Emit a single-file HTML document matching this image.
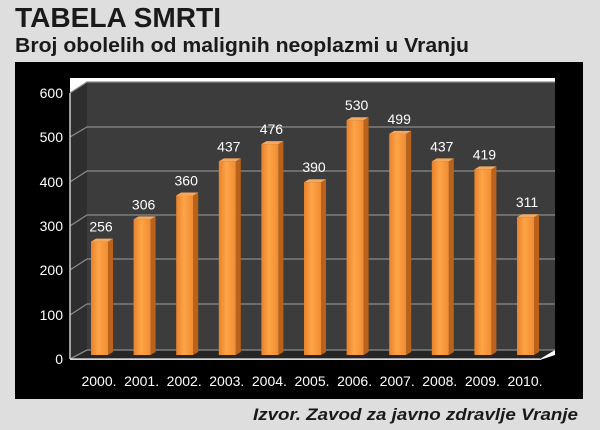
<!DOCTYPE html>
<html><head><meta charset="utf-8"><style>
html,body{margin:0;padding:0;background:#dedede;}
svg{display:block;font-family:"Liberation Sans",sans-serif;}
</style></head><body>
<svg width="600" height="430" viewBox="0 0 600 430" xmlns="http://www.w3.org/2000/svg">
<defs>
<linearGradient id="bf" x1="0" x2="1" y1="0" y2="0">
<stop offset="0" stop-color="#e8822a"/><stop offset="0.45" stop-color="#ffa448"/><stop offset="1" stop-color="#f08c32"/>
</linearGradient>
</defs>
<rect width="600" height="430" fill="#dedede"/>
<text x="15" y="27" font-size="28" font-weight="bold" fill="#1a1a1a" textLength="206" lengthAdjust="spacingAndGlyphs">TABELA SMRTI</text>
<text x="15" y="52" font-size="20" font-weight="bold" fill="#1a1a1a" textLength="454" lengthAdjust="spacingAndGlyphs">Broj obolelih od malignih neoplazmi u Vranju</text>
<rect x="15" y="62" width="568" height="337" fill="#000"/>
<polygon points="70,78 555,78 555,82 87,82 70,93" fill="#fff"/>
<polygon points="555,350 555,355 540,360 70,360 70,357" fill="#fff"/>
<rect x="87" y="82" width="468" height="268" fill="#3c3c3c"/>
<polygon points="70,93 87,82 87,350 70,359" fill="#2e2e2e"/>
<polygon points="70,359 87,350 555,350 540,359" fill="#262626"/>
<g stroke="#8a8a8a" stroke-width="1.3" fill="none">
<polyline points="70,93 87,82 555,82"/>
<polyline points="70,137 87,127 555,127"/>
<polyline points="70,182 87,171 555,171"/>
<polyline points="70,226 87,215 555,215"/>
<polyline points="70,270 87,259 555,259"/>
<polyline points="70,315 87,304 555,304"/>
<polyline points="70,359 87,350 555,350"/>
</g>
<line x1="70" y1="93" x2="70" y2="359" stroke="#ccc" stroke-width="1.5"/>
<line x1="70" y1="359" x2="540" y2="359" stroke="#ccc" stroke-width="1.5"/>
<g fill="#fff" font-size="14" text-anchor="end">
<text x="63" y="98">600</text><text x="63" y="142">500</text><text x="63" y="187">400</text>
<text x="63" y="231">300</text><text x="63" y="275">200</text><text x="63" y="320">100</text><text x="63" y="364">0</text>
</g>
<g>
<g transform="translate(91,241.6)"><polygon points="17,0 22,-3 22,110.4 17,113.4" fill="#b8621c"/><rect width="17" height="113.4" fill="url(#bf)"/><polygon points="0,0 5,-3 22,-3 17,0" fill="#f4a860"/></g>
<g transform="translate(133.6,219.4)"><polygon points="17,0 22,-3 22,132.6 17,135.6" fill="#b8621c"/><rect width="17" height="135.6" fill="url(#bf)"/><polygon points="0,0 5,-3 22,-3 17,0" fill="#f4a860"/></g>
<g transform="translate(176.2,195.5)"><polygon points="17,0 22,-3 22,156.5 17,159.5" fill="#b8621c"/><rect width="17" height="159.5" fill="url(#bf)"/><polygon points="0,0 5,-3 22,-3 17,0" fill="#f4a860"/></g>
<g transform="translate(218.8,161.4)"><polygon points="17,0 22,-3 22,190.6 17,193.6" fill="#b8621c"/><rect width="17" height="193.6" fill="url(#bf)"/><polygon points="0,0 5,-3 22,-3 17,0" fill="#f4a860"/></g>
<g transform="translate(261.4,144.1)"><polygon points="17,0 22,-3 22,207.9 17,210.9" fill="#b8621c"/><rect width="17" height="210.9" fill="url(#bf)"/><polygon points="0,0 5,-3 22,-3 17,0" fill="#f4a860"/></g>
<g transform="translate(304,182.2)"><polygon points="17,0 22,-3 22,169.8 17,172.8" fill="#b8621c"/><rect width="17" height="172.8" fill="url(#bf)"/><polygon points="0,0 5,-3 22,-3 17,0" fill="#f4a860"/></g>
<g transform="translate(346.6,120.2)"><polygon points="17,0 22,-3 22,231.8 17,234.8" fill="#b8621c"/><rect width="17" height="234.8" fill="url(#bf)"/><polygon points="0,0 5,-3 22,-3 17,0" fill="#f4a860"/></g>
<g transform="translate(389.2,133.9)"><polygon points="17,0 22,-3 22,218.1 17,221.1" fill="#b8621c"/><rect width="17" height="221.1" fill="url(#bf)"/><polygon points="0,0 5,-3 22,-3 17,0" fill="#f4a860"/></g>
<g transform="translate(431.8,161.4)"><polygon points="17,0 22,-3 22,190.6 17,193.6" fill="#b8621c"/><rect width="17" height="193.6" fill="url(#bf)"/><polygon points="0,0 5,-3 22,-3 17,0" fill="#f4a860"/></g>
<g transform="translate(474.4,169.4)"><polygon points="17,0 22,-3 22,182.6 17,185.6" fill="#b8621c"/><rect width="17" height="185.6" fill="url(#bf)"/><polygon points="0,0 5,-3 22,-3 17,0" fill="#f4a860"/></g>
<g transform="translate(517,217.2)"><polygon points="17,0 22,-3 22,134.8 17,137.8" fill="#b8621c"/><rect width="17" height="137.8" fill="url(#bf)"/><polygon points="0,0 5,-3 22,-3 17,0" fill="#f4a860"/></g>
</g>
<g fill="#fff" font-size="14" text-anchor="middle">
<text x="101" y="231.6">256</text><text x="143.6" y="209.4">306</text><text x="186.2" y="185.5">360</text>
<text x="228.8" y="151.4">437</text><text x="271.4" y="134.1">476</text><text x="314" y="172.2">390</text>
<text x="356.6" y="110.2">530</text><text x="399.2" y="123.9">499</text><text x="441.8" y="151.4">437</text>
<text x="484.4" y="159.4">419</text><text x="527" y="207.2">311</text>
</g>
<g fill="#fff" font-size="14" text-anchor="middle">
<text x="99" y="386">2000.</text><text x="141.6" y="386">2001.</text><text x="184.2" y="386">2002.</text>
<text x="226.8" y="386">2003.</text><text x="269.4" y="386">2004.</text><text x="312" y="386">2005.</text>
<text x="354.6" y="386">2006.</text><text x="397.2" y="386">2007.</text><text x="439.8" y="386">2008.</text>
<text x="482.4" y="386">2009.</text><text x="525" y="386">2010.</text>
</g>
<text x="578" y="420" font-size="17" font-weight="bold" font-style="italic" fill="#1a1a1a" text-anchor="end" textLength="325" lengthAdjust="spacingAndGlyphs">Izvor. Zavod za javno zdravlje Vranje</text>
</svg>
</body></html>
